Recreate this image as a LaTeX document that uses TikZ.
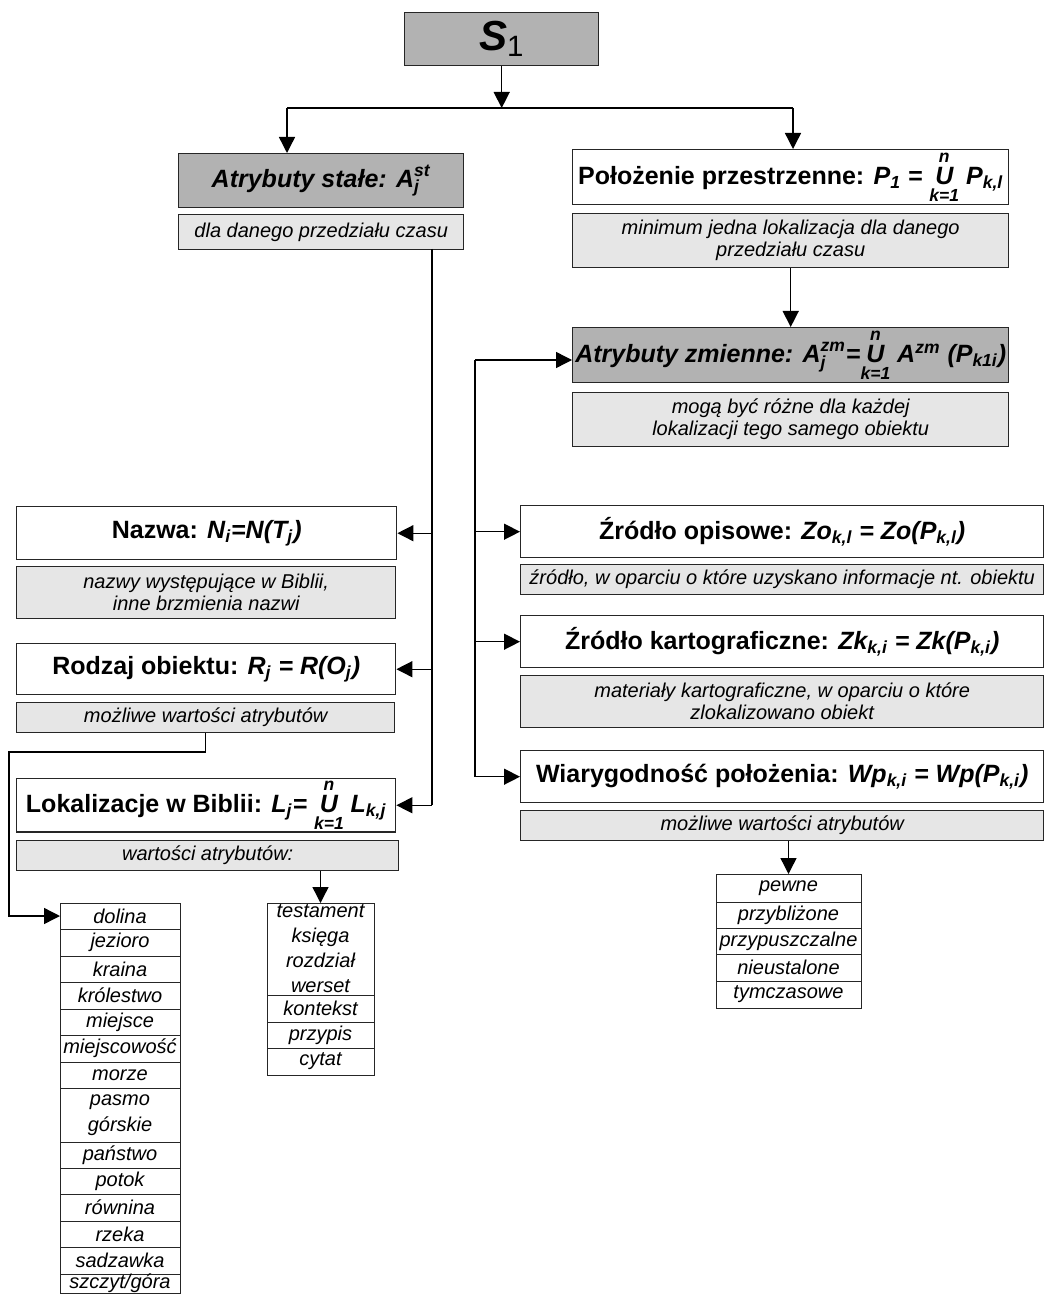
\documentclass[tikz,border=0pt]{standalone}
\usepackage{amsmath}
\usepackage{fontspec}
\setmainfont{Liberation Sans}
\usetikzlibrary{arrows.meta}

\definecolor{ciemnoszary}{RGB}{178,178,178}
\definecolor{jasnoszary}{RGB}{230,230,230}
\newcommand{\zbior}{$\mathop{\text{U}}\limits^{\text{n}}_{\text{k=1}}$}
\newcommand{\wsk}[3]{$\text{#1}^{\text{#2}}_{\text{#3}}$}

\tikzset{
  wh/.style 2 args={minimum width=#1*0.5pt, minimum height=#2*0.5pt},
  ramka/.style={draw=black!85, line width=0.7pt, inner sep=0pt, anchor=north west,
    align=center, fill=white, font=\fontsize{12.5}{15}\selectfont\bfseries},
  ciemny/.style={ramka, fill=ciemnoszary},
  jasny/.style={ramka, fill=jasnoszary, font=\fontsize{10}{11}\selectfont\itshape},
  komorka/.style={draw=black!85, line width=0.5pt, inner sep=0pt, outer sep=0pt,
    anchor=north west, align=center, font=\fontsize{10}{13}\selectfont\itshape}
}

\begin{document}
\begin{tikzpicture}[x=0.5pt, y=-0.5pt, line width=0.7pt,
  >={Triangle[length=8pt,width=8pt]}]
  \useasboundingbox (0,0) rectangle (1045,1294);

  % obiekt
  \node[ciemny, wh={194}{53}, font=\fontsize{21}{24}\selectfont\bfseries] (s1) at (404,12)
    {\textit{S}\textsubscript{\normalfont 1}};

  % atrybuty stale
  \node[ciemny, wh={285}{54}] (stale) at (178,153)
    {\textit{Atrybuty stałe: \wsk{A}{st}{j}}};
  \node[jasny, wh={285}{35}] (staleopis) at (178,214) {dla danego przedziału czasu};

  % polozenie i atrybuty zmienne
  \node[ramka, wh={436}{55}] (polozenie) at (572,149)
    {Położenie przestrzenne: \textit{P\textsubscript{1} = \zbior\ P\textsubscript{k,l}}};
  \node[jasny, wh={436}{54}] (polozenieopis) at (572,213)
    {minimum jedna lokalizacja dla danego\\przedziału czasu};
  \node[ciemny, wh={436}{55}] (zmienne) at (572,327)
    {\textit{Atrybuty zmienne: \wsk{A}{zm}{j}=\zbior\ A\textsuperscript{zm} (P\textsubscript{k1i})}};
  \node[jasny, wh={436}{54}] (zmienneopis) at (572,392)
    {mogą być różne dla każdej\\lokalizacji tego samego obiektu};

  % lewa kolumna
  \node[ramka, wh={380}{53}] (nazwa) at (16,506)
    {Nazwa: \textit{N\textsubscript{i}=N(T\textsubscript{j})}};
  \node[jasny, wh={379}{52}] (nazwaopis) at (16,566)
    {nazwy występujące w Biblii,\\inne brzmienia nazwi};
  \node[ramka, wh={379}{51}] (rodzaj) at (16,643)
    {Rodzaj obiektu: \textit{R\textsubscript{j} = R(O\textsubscript{j})}};
  \node[jasny, wh={378}{30}] (rodzajopis) at (16,702) {możliwe wartości atrybutów};
  \node[ramka, wh={379}{52}] (lokalizacje) at (16,778)
    {Lokalizacje w Biblii: \textit{L\textsubscript{j}= \zbior\ L\textsubscript{k,j}}};
  \node[jasny, wh={382}{30}] (lokalizacjeopis) at (16,840) {wartości atrybutów:};

  % prawa kolumna
  \node[ramka, wh={523}{52}] (opisowe) at (520,505)
    {Źródło opisowe: \textit{Zo\textsubscript{k,l} = Zo(P\textsubscript{k,l})}};
  \node[jasny, wh={523}{30}] (opisoweopis) at (520,564)
    {źródło, w oparciu o które uzyskano informacje nt. obiektu};
  \node[ramka, wh={523}{52}] (kartograficzne) at (520,615)
    {Źródło kartograficzne: \textit{Zk\textsubscript{k,i} = Zk(P\textsubscript{k,i})}};
  \node[jasny, wh={523}{52}] (kartograficzneopis) at (520,675)
    {materiały kartograficzne, w oparciu o które\\zlokalizowano obiekt};
  \node[ramka, wh={523}{52}] (wiarygodnosc) at (520,750)
    {Wiarygodność położenia: \textit{Wp\textsubscript{k,i} = Wp(P\textsubscript{k,i})}};
  \node[jasny, wh={523}{30}] (wiarygodnoscopis) at (520,810) {możliwe wartości atrybutów};

  % listy wartosci
  \foreach \t/\b/\s [count=\i] in {903/929/dolina, 929/956/jezioro, 956/982/kraina,
      982/1009/królestwo, 1009/1035/miejsce, 1035/1062/miejscowość, 1062/1088/morze,
      1088/1142/{pasmo\\górskie}, 1142/1168/państwo, 1168/1194/potok,
      1194/1221/równina, 1221/1247/rzeka, 1247/1274/sadzawka, 1274/1293/{szczyt/góra}}
    \node[komorka, minimum width=60pt, minimum height=(\b-\t)*0.5pt] (typ\i) at (60,\t) {\s};
  \foreach \t/\b/\s [count=\i] in {903/995/{testament\\księga\\rozdział\\werset},
      995/1022/kontekst, 1022/1048/przypis, 1048/1075/cytat}
    \node[komorka, minimum width=53.5pt, minimum height=(\b-\t)*0.5pt, font=\fontsize{10}{12.5}\selectfont\itshape]
      (cytow\i) at (267,\t) {\s};
  \foreach \t/\b/\s [count=\i] in {874/902/pewne, 902/928/przybliżone, 928/954/przypuszczalne,
      954/981/nieustalone, 981/1008/tymczasowe}
    \node[komorka, minimum width=72.5pt, minimum height=(\b-\t)*0.5pt] (pewn\i) at (716,\t) {\s};

  % polaczenia
  \coordinate (lewo) at (287,108);
  \coordinate (prawo) at (793,108);
  \coordinate (rozgal) at (s1.south |- lewo);
  \draw[->] (s1.south) -- (rozgal);
  \draw (lewo) -- (prawo);
  \draw[->] (lewo) -- (lewo |- stale.north);
  \draw[->] (prawo) -- (prawo |- polozenie.north);
  \draw[->] (polozenieopis.south) -- (zmienne.north);

  \coordinate (pionL) at (432,249);
  \draw (pionL) -- (pionL |- lokalizacje.east);
  \foreach \cel in {nazwa, rodzaj, lokalizacje}
    \draw[->] (pionL |- \cel.east) -- (\cel.east);

  \coordinate (pionP) at (475,360);
  \draw[->] (pionP) -- (zmienne.west |- pionP);
  \draw (pionP) -- (pionP |- wiarygodnosc.west);
  \foreach \cel in {opisowe, kartograficzne, wiarygodnosc}
    \draw[->] (pionP |- \cel.west) -- (\cel.west);

  \coordinate (zakret) at (9,752);
  \draw[->] (rodzajopis.south) |- (zakret) |- (typ1.west);
  \draw[->] (lokalizacjeopis.south -| cytow1.north) -- (cytow1.north);
  \draw[->] (wiarygodnoscopis.south -| pewn1.north) -- (pewn1.north);
\end{tikzpicture}
\end{document}
